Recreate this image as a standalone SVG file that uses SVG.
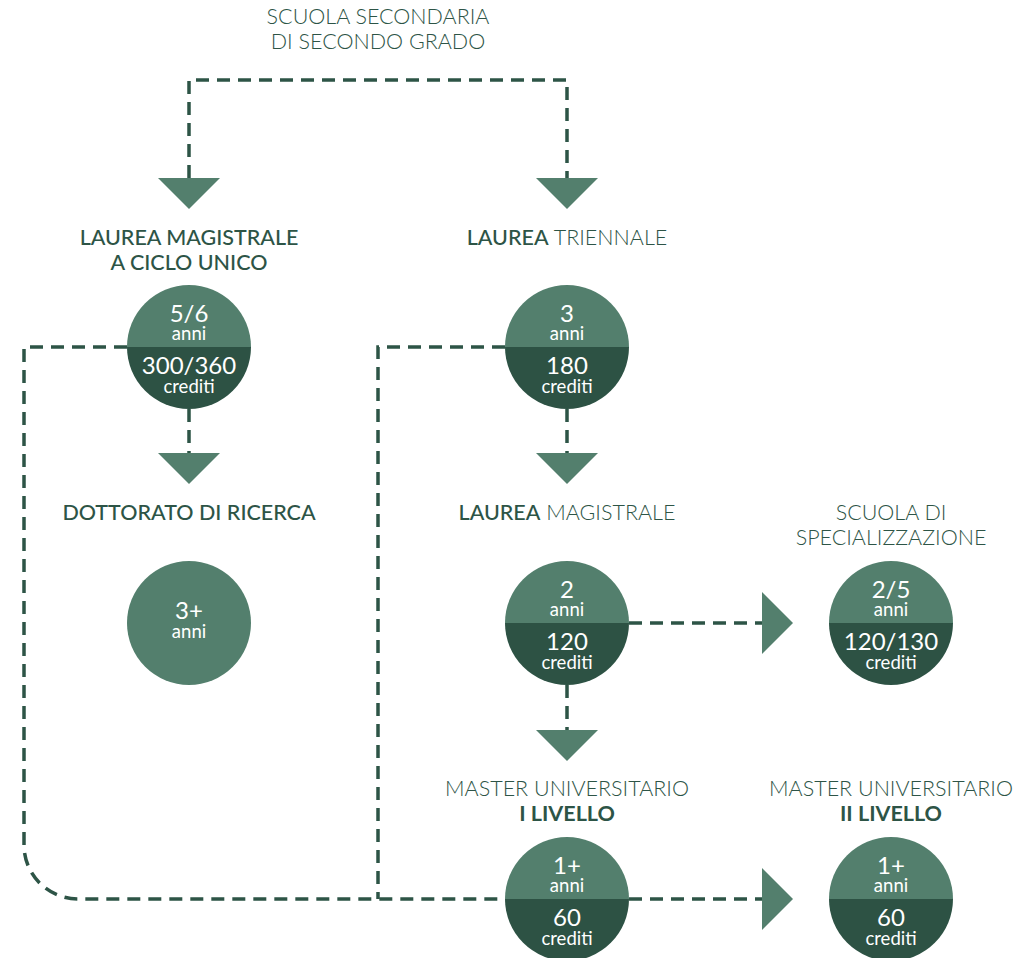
<svg xmlns="http://www.w3.org/2000/svg" width="1034" height="958" viewBox="0 0 1034 958">
<style>
  .bg{fill:#ffffff}
  .dash{fill:none;stroke:#2d5446;stroke-width:3.5;stroke-dasharray:13 8}
  .tri{fill:#537f6d}
  .top{fill:#537f6d}
  .bot{fill:#2d5244}
  .h{font-family:Lato,"Liberation Sans",sans-serif;font-size:21.5px;fill:#2d5446;text-anchor:middle}
  .lt{font-weight:300}
  .md{font-weight:500}
  .bd{font-weight:700}
  .num{font-family:Lato,"Liberation Sans",sans-serif;font-size:24px;fill:#ffffff;text-anchor:middle}
  .sub{font-family:Lato,"Liberation Sans",sans-serif;font-size:18.5px;fill:#ffffff;text-anchor:middle}
</style>
<rect class="bg" x="0" y="0" width="1034" height="958"/>
<g id="connectors">
  <path class="dash" d="M189 178 V80 H567 V178"/>
  <path class="dash" d="M189 409 V453"/>
  <path class="dash" d="M567 409 V453"/>
  <path class="dash" d="M567 685 V730"/>
  <path class="dash" d="M629 623 H762"/>
  <path class="dash" d="M629 899 H762"/>
  <path class="dash" d="M127 347 H24 V845 A54 54 0 0 0 78 899 H505"/>
  <path class="dash" d="M505 347 H378 V899"/>
  <polygon class="tri" points="158,178 220,178 189,209"/>
  <polygon class="tri" points="536,178 598,178 567,209"/>
  <polygon class="tri" points="158,453 220,453 189,484"/>
  <polygon class="tri" points="536,453 598,453 567,484"/>
  <polygon class="tri" points="536,730 598,730 567,761"/>
  <polygon class="tri" points="762,592 762,654 793,623"/>
  <polygon class="tri" points="762,868 762,930 793,899"/>
</g>
<g id="scuola-secondaria">
  <text class="h lt" x="378" y="24">SCUOLA SECONDARIA</text>
  <text class="h lt" x="378" y="49">DI SECONDO GRADO</text>
</g>
<g id="laurea-ciclo-unico">
  <text class="h md" x="189" y="245">LAUREA MAGISTRALE</text>
  <text class="h md" x="189" y="270">A CICLO UNICO</text>
  <path class="top" d="M127 347 A62 62 0 0 1 251 347 Z"/>
  <path class="bot" d="M127 347 A62 62 0 0 0 251 347 Z"/>
  <text class="num" x="189" y="322">5/6</text>
  <text class="sub" x="189" y="340">anni</text>
  <text class="num" x="189" y="374">300/360</text>
  <text class="sub" x="189" y="393">crediti</text>
</g>
<g id="dottorato">
  <text class="h md" x="189" y="520">DOTTORATO DI RICERCA</text>
  <circle class="top" cx="189" cy="623" r="62"/>
  <text class="num" x="189" y="619">3+</text>
  <text class="sub" x="189" y="638">anni</text>
</g>
<g id="laurea-triennale">
  <text class="h" x="567" y="245"><tspan class="md">LAUREA</tspan><tspan class="lt"> TRIENNALE</tspan></text>
  <path class="top" d="M505 347 A62 62 0 0 1 629 347 Z"/>
  <path class="bot" d="M505 347 A62 62 0 0 0 629 347 Z"/>
  <text class="num" x="567" y="322">3</text>
  <text class="sub" x="567" y="340">anni</text>
  <text class="num" x="567" y="374">180</text>
  <text class="sub" x="567" y="393">crediti</text>
</g>
<g id="laurea-magistrale">
  <text class="h" x="567" y="520"><tspan class="md">LAUREA</tspan><tspan class="lt"> MAGISTRALE</tspan></text>
  <path class="top" d="M505 623 A62 62 0 0 1 629 623 Z"/>
  <path class="bot" d="M505 623 A62 62 0 0 0 629 623 Z"/>
  <text class="num" x="567" y="598">2</text>
  <text class="sub" x="567" y="616">anni</text>
  <text class="num" x="567" y="650">120</text>
  <text class="sub" x="567" y="669">crediti</text>
</g>
<g id="scuola-specializzazione">
  <text class="h lt" x="891" y="520">SCUOLA DI</text>
  <text class="h lt" x="891" y="545">SPECIALIZZAZIONE</text>
  <path class="top" d="M829 623 A62 62 0 0 1 953 623 Z"/>
  <path class="bot" d="M829 623 A62 62 0 0 0 953 623 Z"/>
  <text class="num" x="891" y="598">2/5</text>
  <text class="sub" x="891" y="616">anni</text>
  <text class="num" x="891" y="650">120/130</text>
  <text class="sub" x="891" y="669">crediti</text>
</g>
<g id="master-1">
  <text class="h lt" x="567" y="796">MASTER UNIVERSITARIO</text>
  <text class="h bd" x="567" y="821">I LIVELLO</text>
  <path class="top" d="M505 899 A62 62 0 0 1 629 899 Z"/>
  <path class="bot" d="M505 899 A62 62 0 0 0 629 899 Z"/>
  <text class="num" x="567" y="874">1+</text>
  <text class="sub" x="567" y="892">anni</text>
  <text class="num" x="567" y="926">60</text>
  <text class="sub" x="567" y="945">crediti</text>
</g>
<g id="master-2">
  <text class="h lt" x="891" y="796">MASTER UNIVERSITARIO</text>
  <text class="h bd" x="891" y="821">II LIVELLO</text>
  <path class="top" d="M829 899 A62 62 0 0 1 953 899 Z"/>
  <path class="bot" d="M829 899 A62 62 0 0 0 953 899 Z"/>
  <text class="num" x="891" y="874">1+</text>
  <text class="sub" x="891" y="892">anni</text>
  <text class="num" x="891" y="926">60</text>
  <text class="sub" x="891" y="945">crediti</text>
</g>
</svg>
